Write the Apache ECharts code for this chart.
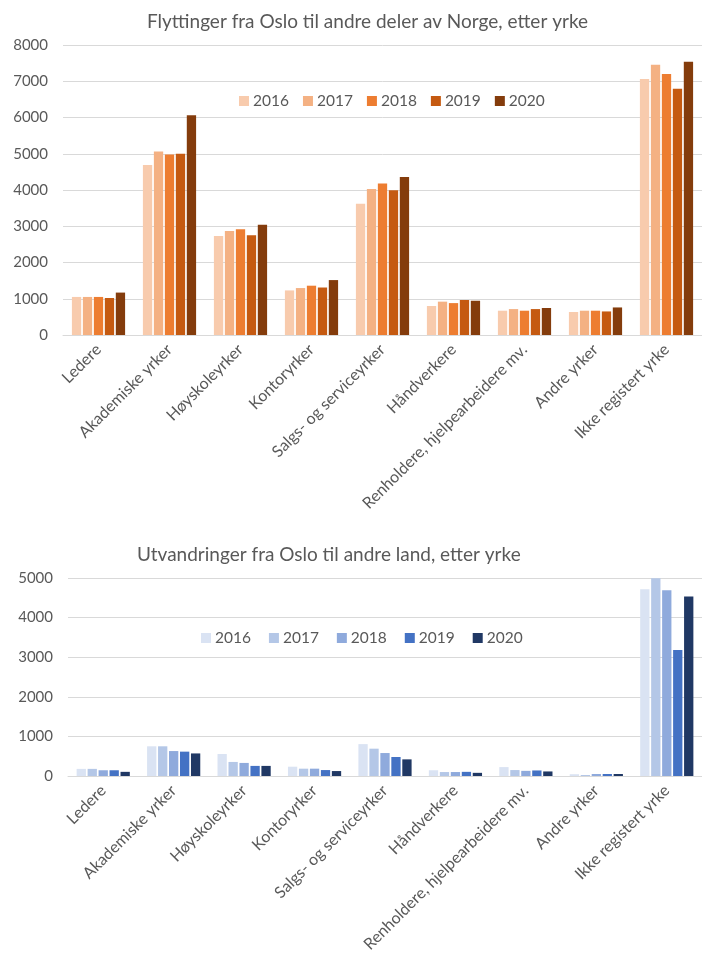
<!DOCTYPE html>
<html><head><meta charset="utf-8">
<script src="https://cdn.jsdelivr.net/npm/echarts@6/dist/echarts.min.js"></script>
<style>html,body{margin:0;padding:0;background:#fff}#c{width:702px;height:963px}</style>
</head><body><div id="c"></div>
<script>
const categories = ['Ledere','Akademiske yrker','Høyskoleyrker','Kontoryrker','Salgs- og serviceyrker','Håndverkere','Renholdere, hjelpearbeidere mv.','Andre yrker','Ikke registert yrke'];
const years = ['2016','2017','2018','2019','2020'];

const norge2016 = [1050, 4690, 2730, 1230, 3620, 800, 670, 635, 7060];
const norge2017 = [1050, 5060, 2870, 1295, 4030, 920, 715, 670, 7455];
const norge2018 = [1050, 4980, 2920, 1360, 4180, 880, 670, 670, 7200];
const norge2019 = [1020, 5000, 2750, 1310, 3995, 965, 715, 650, 6795];
const norge2020 = [1170, 6065, 3040, 1515, 4360, 945, 745, 760, 7540];

const utv2016 = [180, 750, 555, 235, 805, 145, 225, 45, 4715];
const utv2017 = [180, 750, 355, 185, 690, 100, 150, 25, 4995];
const utv2018 = [145, 630, 330, 185, 580, 100, 130, 50, 4690];
const utv2019 = [145, 615, 255, 150, 480, 105, 140, 50, 3180];
const utv2020 = [105, 570, 255, 125, 420, 80, 115, 50, 4535];

const norgeTicks = [0,1000,2000,3000,4000,5000,6000,7000,8000];
const utvTicks = [0,1000,2000,3000,4000,5000];

const titleTop = 'Flyttinger fra Oslo til andre deler av Norge, etter yrke';
const titleBottom = 'Utvandringer fra Oslo til andre land, etter yrke';

const orange = ['#F8CBAD','#F4B183','#ED7D31','#C55A11','#843C0C'];
const blue = ['#DAE3F3','#B4C7E7','#8FAADC','#4472C4','#203864'];
const FONT = 'Lato';
const TXT = '#595959';

const norgeData = [norge2016, norge2017, norge2018, norge2019, norge2020];
const utvData = [utv2016, utv2017, utv2018, utv2019, utv2020];

function xAxis(gi){
  return {type:'category', gridIndex:gi, data:categories,
    axisLine:{show:true, lineStyle:{color:'#d9d9d9', width:1}},
    axisTick:{show:false},
    axisLabel:{rotate:45, interval:0, margin:12, color:TXT, fontFamily:FONT, fontSize:16}};
}
function yAxis(gi, ticks){
  return {type:'value', gridIndex:gi, min:ticks[0], max:ticks[ticks.length-1], interval:ticks[1]-ticks[0],
    axisLine:{show:false}, axisTick:{show:false},
    splitLine:{lineStyle:{color:'#d9d9d9', width:1}},
    axisLabel:{margin:15, color:TXT, fontFamily:FONT, fontSize:15, formatter:function(v){return String(v);}}};
}
const series = [];
years.forEach((y,i)=>{
  series.push({name:y, type:'bar', xAxisIndex:0, yAxisIndex:0, data:norgeData[i], barWidth:9.3, barGap:'18%',
    itemStyle:{color:orange[i]}});
});
years.forEach((y,i)=>{
  series.push({name:y+' ', type:'bar', xAxisIndex:1, yAxisIndex:1, data:utvData[i], barWidth:9.3, barGap:'18%',
    itemStyle:{color:blue[i]}});
});

const chart = echarts.init(document.getElementById('c'), null, {renderer:'canvas'});
chart.setOption({
  animation:false,
  backgroundColor:'#fff',
  title:[
    {text:titleTop, left:142, top:7, textStyle:{color:TXT, fontFamily:FONT, fontSize:19, fontWeight:'normal'}},
    {text:titleBottom, left:132, top:540, textStyle:{color:TXT, fontFamily:FONT, fontSize:19, fontWeight:'normal'}}
  ],
  legend:[
    {data:years, left:234, top:88, icon:'rect', itemWidth:10, itemHeight:10, itemGap:14,
     textStyle:{color:TXT, fontFamily:FONT, fontSize:15.5, padding:[0,0,0,-1]}},
    {data:years.map(y=>y+' '), left:196, top:625, icon:'rect', itemWidth:10, itemHeight:10, itemGap:14,
     textStyle:{color:TXT, fontFamily:FONT, fontSize:15.5, padding:[0,0,0,-1]}}
  ],
  grid:[
    {left:63, right:-7, top:45, height:290, containLabel:false},
    {left:68, right:-12, top:578, height:198, containLabel:false}
  ],
  xAxis:[xAxis(0), xAxis(1)],
  yAxis:[yAxis(0, norgeTicks), yAxis(1, utvTicks)],
  series: series
});
</script></body></html>
